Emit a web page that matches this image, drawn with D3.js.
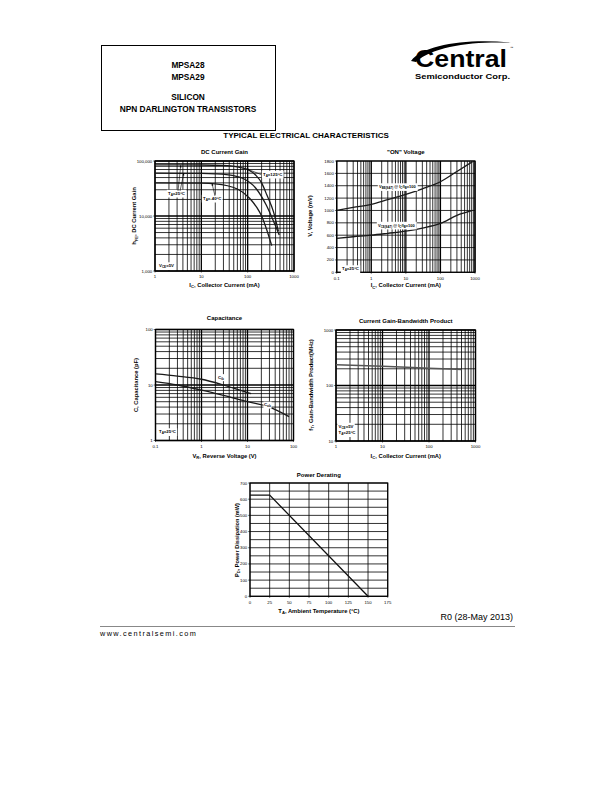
<!DOCTYPE html>
<html><head><meta charset="utf-8">
<script src="https://cdn.jsdelivr.net/npm/d3@7"></script>
<style>
body{margin:0;background:#fff}
svg{display:block}
text{font-family:"Liberation Sans",Arial,Helvetica,sans-serif}
</style>
</head><body>
<svg id="c" width="612" height="792"></svg>
<script>
// ---------- DATA ----------
// DC Current Gain (hFE vs IC mA)
const gainIc125 = [1, 10, 30, 60, 100, 150, 200, 260, 360, 460];
const gain125   = [85000, 84500, 83000, 78000, 70000, 55000, 40000, 24000, 12000, 5300];
const gainIc25  = [1, 10, 20, 50, 80, 150, 250, 390, 480];
const gain25    = [60000, 59500, 58500, 54000, 48000, 32000, 16000, 6900, 4500];
const gainIcM40 = [1, 10, 20, 60, 110, 160, 200, 260, 330];
const gainM40   = [40000, 39500, 38500, 31000, 21000, 14000, 10000, 5500, 2900];
// "ON" Voltage (mV vs IC mA)
const onIc      = [0.1, 0.3, 1, 3, 10, 30, 100, 300, 850];
const vbeSat    = [1000, 1050, 1100, 1175, 1260, 1350, 1465, 1630, 1790];
const vceSat    = [550, 575, 600, 630, 665, 715, 790, 920, 1000];
// Capacitance (pF vs VR V)
const cibV      = [0.1, 0.3, 1, 3, 10, 12];
const cib       = [15.8, 14.5, 12.7, 10, 7.3, 7.0];
const cobV      = [0.1, 0.3, 1, 3, 10, 30, 80];
const cob       = [11.5, 10, 8.1, 6.5, 5.0, 4.0, 2.7];
// Current Gain-Bandwidth Product (MHz vs IC mA)
const ftIc      = [1, 10, 100, 500];
const ft        = [236, 222, 205, 194];
// Power Derating (mW vs TA °C)
const pdTemp    = [0, 25, 150];
const pd        = [625, 625, 0];
// Tick labels
const gainXTicks = ["1", "10", "100", "1000"];
const gainYTicks = ["1,000", "10,000", "100,000"];
const onXTicks   = ["0.1", "1", "10", "100", "1000"];
const onYTicks   = [0, 200, 400, 600, 800, 1000, 1200, 1400, 1600, 1800];
const capXTicks  = ["0.1", "1", "10", "100"];
const capYTicks  = ["1", "10", "100"];
const ftXTicks   = ["1", "10", "100", "1000"];
const ftYTicks   = ["10", "100", "1000"];
const pdXTicks   = [0, 25, 50, 75, 100, 125, 150, 175];
const pdYTicks   = [0, 100, 200, 300, 400, 500, 600, 700];

// ---------- HELPERS ----------
const svg = d3.select("#c");

function rich(sel, parts, size) {
  parts.forEach(p => {
    const t = sel.append("tspan").text(p[0]);
    if (p[1]) { t.attr("font-size", size * 0.72).attr("dy", size * 0.3); }
    else if (sel.node().childNodes.length > 1) {
      const prev = sel.node().childNodes[sel.node().childNodes.length - 2];
      if (prev.getAttribute("dy")) t.attr("dy", -size * 0.3);
    }
  });
  return sel;
}

function logGrid(lo, hi) {
  const out = [];
  for (let e = Math.round(Math.log10(lo)); e < Math.round(Math.log10(hi)); e++)
    for (let k = 1; k < 10; k++) out.push(k * Math.pow(10, e));
  out.push(hi);
  return out;
}

function chart(c) {
  const g = svg.append("g");
  const x = (c.xlog ? d3.scaleLog() : d3.scaleLinear()).domain(c.xd).range([c.l, c.r]);
  const y = (c.ylog ? d3.scaleLog() : d3.scaleLinear()).domain(c.yd).range([c.b, c.t]);
  const isMajor = (v, log) => log && Math.abs(Math.log10(v) - Math.round(Math.log10(v))) < 1e-9;
  g.selectAll(".vx").data(c.xg).join("line")
    .attr("x1", d => x(d)).attr("x2", d => x(d)).attr("y1", c.t).attr("y2", c.b)
    .attr("stroke", "#000").attr("stroke-width", d => isMajor(d, c.xlog) ? 1.3 : 0.8);
  g.selectAll(".hy").data(c.yg).join("line")
    .attr("y1", d => y(d)).attr("y2", d => y(d)).attr("x1", c.l).attr("x2", c.r)
    .attr("stroke", "#000").attr("stroke-width", d => isMajor(d, c.ylog) ? 1.3 : 0.8);
  g.append("rect").attr("x", c.l).attr("y", c.t).attr("width", c.r - c.l).attr("height", c.b - c.t)
    .attr("fill", "none").attr("stroke", "#000").attr("stroke-width", 1.2);
  const fs = 4.3;
  c.xt.forEach(v => {
    g.append("line").attr("x1", x(+v)).attr("x2", x(+v)).attr("y1", c.b).attr("y2", c.b + 1.5)
      .attr("stroke", "#000").attr("stroke-width", 0.6);
    g.append("text").attr("x", x(+v)).attr("y", c.b + 7.2).attr("text-anchor", "middle")
      .attr("font-size", fs).text(v);
  });
  c.yt.forEach(v => {
    const val = typeof v === "string" ? +v.replace(/,/g, "") : v;
    g.append("line").attr("x1", c.l - 1.8).attr("x2", c.l).attr("y1", y(val)).attr("y2", y(val))
      .attr("stroke", "#000").attr("stroke-width", 0.6);
    g.append("text").attr("x", c.l - 2.8).attr("y", y(val) + 1.5).attr("text-anchor", "end")
      .attr("font-size", fs).text(v);
  });
  g.append("text").attr("x", (c.l + c.r) / 2).attr("y", c.ty).attr("text-anchor", "middle")
    .attr("font-size", 6).attr("font-weight", "bold").text(c.title);
  rich(g.append("text").attr("x", c.xlx || (c.l + c.r) / 2).attr("y", c.xly).attr("text-anchor", "middle")
    .attr("font-size", c.xls || 5.8).attr("font-weight", "bold"), c.xlab, c.xls || 5.8);
  rich(g.append("text").attr("transform", `translate(${c.ylx},${c.yly}) rotate(-90)`).attr("text-anchor", "middle")
    .attr("font-size", c.yls || 5.8).attr("font-weight", "bold"), c.ylab, c.yls || 5.8);
  const id = "clip" + Math.random().toString(36).slice(2);
  svg.append("clipPath").attr("id", id).append("rect")
    .attr("x", c.l).attr("y", c.t).attr("width", c.r - c.l).attr("height", c.b - c.t);
  const line = d3.line().x(d => x(d[0])).y(d => y(d[1])).curve(c.curve || d3.curveMonotoneX);
  c.series.forEach(s => {
    g.append("path").attr("d", line(d3.zip(s.x, s.y))).attr("fill", "none")
      .attr("stroke", s.color || "#1a1a1a").attr("stroke-width", s.w || 1.3)
      .attr("clip-path", `url(#${id})`);
  });
  return { g, x, y };
}

function note(g, x, y, parts, fs, pad) {
  fs = fs || 4.3; pad = pad || 1.2;
  const t = rich(g.append("text").attr("x", x).attr("y", y).attr("font-size", fs).attr("font-weight", "bold"), parts, fs);
  const bb = t.node().getBBox();
  g.insert("rect", () => t.node()).attr("x", bb.x - pad).attr("y", bb.y - pad * 0.6)
    .attr("width", bb.width + pad * 2).attr("height", bb.height + pad * 1.2).attr("fill", "#fff");
  return t;
}

function arrow(g, x1, y1, x2, y2) {
  g.append("line").attr("x1", x1).attr("y1", y1).attr("x2", x2).attr("y2", y2)
    .attr("stroke", "#000").attr("stroke-width", 0.6);
  const a = Math.atan2(y2 - y1, x2 - x1), L = 2.2, W = 0.9;
  const p = [[x2, y2],
    [x2 - L * Math.cos(a) + W * Math.sin(a), y2 - L * Math.sin(a) - W * Math.cos(a)],
    [x2 - L * Math.cos(a) - W * Math.sin(a), y2 - L * Math.sin(a) + W * Math.cos(a)]];
  g.append("path").attr("d", "M" + p.join("L") + "Z").attr("fill", "#000");
}

// ---------- HEADER ----------
svg.append("rect").attr("x", 101.5).attr("y", 45.5).attr("width", 174).attr("height", 85)
  .attr("fill", "none").attr("stroke", "#000").attr("stroke-width", 1);
[["MPSA28", 68], ["MPSA29", 79.5], ["SILICON", 100], ["NPN DARLINGTON TRANSISTORS", 111.5]].forEach(d => {
  svg.append("text").attr("x", 188).attr("y", d[1]).attr("text-anchor", "middle")
    .attr("font-size", 8.3).attr("font-weight", "bold").text(d[0]);
});
// logo
svg.append("path").attr("d", "M411,61 C424,44 470,38 514,43 C474,41 434,46 416,62 Z").attr("fill", "#000");
svg.append("text").attr("x", 415).attr("y", 67).attr("font-size", 23).attr("font-weight", "bold")
  .attr("font-family", '"DejaVu Sans",sans-serif').attr("textLength", 92).attr("lengthAdjust", "spacingAndGlyphs")
  .text("Central");
svg.append("text").attr("x", 415).attr("y", 78.5).attr("font-size", 7.2).attr("font-weight", "bold")
  .attr("font-family", '"DejaVu Sans",sans-serif').attr("textLength", 95).attr("lengthAdjust", "spacingAndGlyphs")
  .text("Semiconductor Corp.");
svg.append("text").attr("x", 510).attr("y", 49).attr("font-size", 3.5).text("™");

svg.append("text").attr("x", 306).attr("y", 138).attr("text-anchor", "middle")
  .attr("font-size", 8).attr("font-weight", "bold").text("TYPICAL ELECTRICAL CHARACTERISTICS");

// ---------- CHART 1: DC Current Gain ----------
const c1 = chart({
  l: 155, r: 294, t: 161, b: 271, xlog: true, ylog: true, xd: [1, 1000], yd: [1000, 100000],
  xg: logGrid(1, 1000), yg: logGrid(1000, 100000), xt: gainXTicks, yt: gainYTicks,
  title: "DC Current Gain", ty: 153.5,
  xlab: [["I"], ["C", 1], [", Collector Current (mA)"]], xly: 286.5,
  ylab: [["h"], ["FE", 1], [", DC Current Gain"]], ylx: 136, yly: 216,
  series: [{ x: gainIc125, y: gain125 }, { x: gainIc25, y: gain25 }, { x: gainIcM40, y: gainM40 }]
});
note(c1.g, 263, 175.5, [["T"], ["A", 1], ["=125°C"]]);
arrow(c1.g, 261, 174.5, c1.x(95), c1.y(72000));
note(c1.g, 168, 194.5, [["T"], ["A", 1], ["=25°C"]]);
arrow(c1.g, 180, 191, c1.x(4.2), c1.y(60000));
arrow(c1.g, 178, 191, c1.x(3.6), c1.y(84000));
note(c1.g, 203, 199.5, [["T"], ["A", 1], ["=-40°C"]]);
arrow(c1.g, 215, 196, c1.x(17), c1.y(39000));
note(c1.g, 159, 267, [["V"], ["CE", 1], ["=5V"]]);

// ---------- CHART 2: ON Voltage ----------
const c2 = chart({
  l: 336.7, r: 475, t: 161, b: 272.3, xlog: true, ylog: false, xd: [0.1, 1000], yd: [0, 1800],
  xg: logGrid(0.1, 1000), yg: onYTicks, xt: onXTicks, yt: onYTicks,
  title: "\"ON\" Voltage", ty: 154,
  xlab: [["I"], ["C", 1], [", Collector Current (mA)"]], xly: 287,
  ylab: [["V, Voltage (mV)"]], ylx: 312, yly: 216,
  series: [{ x: onIc, y: vbeSat }, { x: onIc, y: vceSat }]
});
note(c2.g, 379, 188, [["V"], ["BE(SAT)", 1], [" @ I"], ["C", 1], ["/I"], ["B", 1], ["=100"]], 4);
note(c2.g, 378, 226.5, [["V"], ["CE(SAT)", 1], [" @ I"], ["C", 1], ["/I"], ["B", 1], ["=100"]], 4);
note(c2.g, 342, 270, [["T"], ["A", 1], ["=25°C"]]);

// ---------- CHART 3: Capacitance ----------
const c3 = chart({
  l: 155.5, r: 293.5, t: 329.5, b: 440.5, xlog: true, ylog: true, xd: [0.1, 100], yd: [1, 100],
  xg: logGrid(0.1, 100), yg: logGrid(1, 100), xt: capXTicks, yt: capYTicks,
  title: "Capacitance", ty: 319.5,
  xlab: [["V"], ["R", 1], [", Reverse Voltage (V)"]], xly: 457.5,
  ylab: [["C, Capacitance (pF)"]], ylx: 137.5, yly: 385,
  series: [{ x: cibV, y: cib }, { x: cobV, y: cob }]
});
note(c3.g, 218, 378.5, [["C"], ["ib", 1]], 4.3, 0.6);
note(c3.g, 264, 406, [["C"], ["ob", 1]], 4.3, 0.6);
note(c3.g, 159, 433, [["T"], ["A", 1], ["=25°C"]]);

// ---------- CHART 4: Current Gain-Bandwidth Product ----------
const c4 = chart({
  l: 336, r: 475.5, t: 330, b: 441, xlog: true, ylog: true, xd: [1, 1000], yd: [10, 1000],
  xg: logGrid(1, 1000), yg: logGrid(10, 1000), xt: ftXTicks, yt: ftYTicks,
  title: "Current Gain-Bandwidth Product", ty: 322.5,
  xlab: [["I"], ["C", 1], [", Collector Current (mA)"]], xly: 457.5,
  ylab: [["f"], ["T", 1], [", Gain-Bandwidth Product(MHz)"]], ylx: 312.5, yly: 385,
  series: [{ x: ftIc, y: ft, color: "#555", w: 1.4 }]
});
note(c4.g, 338.5, 427.5, [["V"], ["CE", 1], ["=5V"]]);
note(c4.g, 338.5, 434, [["T"], ["A", 1], ["=25°C"]]);

// ---------- CHART 5: Power Derating ----------
const c5 = chart({
  l: 250, r: 387.7, t: 483, b: 596.3, xlog: false, ylog: false, xd: [0, 175], yd: [0, 700],
  xg: pdXTicks, yg: d3.range(0, 701, 50), xt: pdXTicks, yt: pdYTicks,
  title: "Power Derating", ty: 477,
  xlab: [["T"], ["A", 1], [", Ambient Temperature (°C)"]], xly: 612.5,
  ylab: [["P"], ["D", 1], [", Power Dissipation (mW)"]], ylx: 238.5, yly: 540, yls: 5.6,
  curve: d3.curveLinear,
  series: [{ x: pdTemp, y: pd, color: "#111", w: 1.3 }]
});

// ---------- FOOTER ----------
svg.append("text").attr("x", 513).attr("y", 620).attr("text-anchor", "end")
  .attr("font-size", 9).text("R0 (28-May 2013)");
svg.append("line").attr("x1", 100).attr("x2", 515).attr("y1", 626.5).attr("y2", 626.5)
  .attr("stroke", "#888").attr("stroke-width", 1);
svg.append("text").attr("x", 100).attr("y", 635.5).attr("font-size", 7.3)
  .attr("letter-spacing", 1.4).text("www.centralsemi.com");
</script>
</body></html>
